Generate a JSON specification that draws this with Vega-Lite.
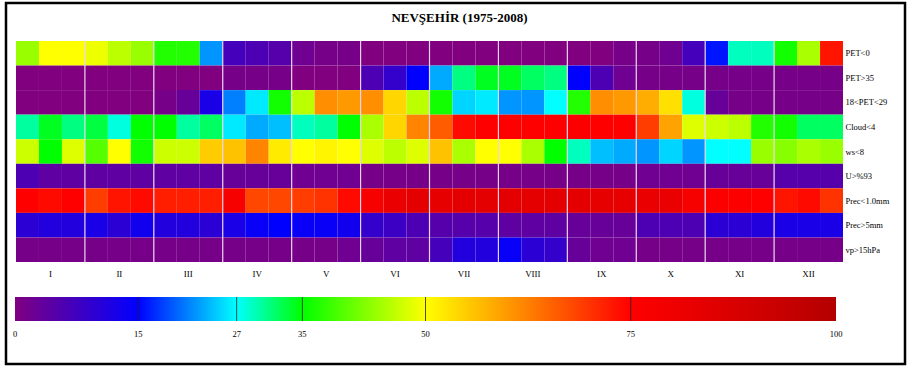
{
  "$schema": "https://vega.github.io/schema/vega-lite/v6.json",
  "width": 827,
  "height": 221,
  "autosize": "none",
  "padding": {"left": 16, "top": 41, "right": 64, "bottom": 105},
  "background": "white",
  "config": {"font": "Liberation Serif", "view": {"stroke": null}},
  "title": {"text": "NEVŞEHİR (1975-2008)", "font": "Liberation Serif", "fontSize": 13, "fontWeight": "bold", "color": "black", "anchor": "middle", "dx": 30, "offset": -23},
  "datasets": {
    "cells": [
      {"d":1,"v":"PET<0","p":44},{"d":2,"v":"PET<0","p":50},{"d":3,"v":"PET<0","p":50},{"d":4,"v":"PET<0","p":49},{"d":5,"v":"PET<0","p":46},{"d":6,"v":"PET<0","p":44},{"d":7,"v":"PET<0","p":37},{"d":8,"v":"PET<0","p":37},{"d":9,"v":"PET<0","p":22},{"d":10,"v":"PET<0","p":7},{"d":11,"v":"PET<0","p":6},{"d":12,"v":"PET<0","p":5},{"d":13,"v":"PET<0","p":2},{"d":14,"v":"PET<0","p":1},{"d":15,"v":"PET<0","p":1},{"d":16,"v":"PET<0","p":0},{"d":17,"v":"PET<0","p":0},{"d":18,"v":"PET<0","p":0},{"d":19,"v":"PET<0","p":0},{"d":20,"v":"PET<0","p":0},{"d":21,"v":"PET<0","p":0},{"d":22,"v":"PET<0","p":0},{"d":23,"v":"PET<0","p":0},{"d":24,"v":"PET<0","p":0},{"d":25,"v":"PET<0","p":0},{"d":26,"v":"PET<0","p":0},{"d":27,"v":"PET<0","p":1},{"d":28,"v":"PET<0","p":1},{"d":29,"v":"PET<0","p":2},{"d":30,"v":"PET<0","p":7},{"d":31,"v":"PET<0","p":16},{"d":32,"v":"PET<0","p":29},{"d":33,"v":"PET<0","p":29},{"d":34,"v":"PET<0","p":36},{"d":35,"v":"PET<0","p":45},{"d":36,"v":"PET<0","p":73},
      {"d":1,"v":"PET>35","p":0},{"d":2,"v":"PET>35","p":0},{"d":3,"v":"PET>35","p":0},{"d":4,"v":"PET>35","p":0},{"d":5,"v":"PET>35","p":0},{"d":6,"v":"PET>35","p":0},{"d":7,"v":"PET>35","p":0},{"d":8,"v":"PET>35","p":0},{"d":9,"v":"PET>35","p":0},{"d":10,"v":"PET>35","p":1},{"d":11,"v":"PET>35","p":1},{"d":12,"v":"PET>35","p":1},{"d":13,"v":"PET>35","p":0},{"d":14,"v":"PET>35","p":0},{"d":15,"v":"PET>35","p":0},{"d":16,"v":"PET>35","p":6},{"d":17,"v":"PET>35","p":9},{"d":18,"v":"PET>35","p":15},{"d":19,"v":"PET>35","p":23},{"d":20,"v":"PET>35","p":31},{"d":21,"v":"PET>35","p":34},{"d":22,"v":"PET>35","p":34},{"d":23,"v":"PET>35","p":32},{"d":24,"v":"PET>35","p":31},{"d":25,"v":"PET>35","p":15},{"d":26,"v":"PET>35","p":6},{"d":27,"v":"PET>35","p":2},{"d":28,"v":"PET>35","p":1},{"d":29,"v":"PET>35","p":1},{"d":30,"v":"PET>35","p":1},{"d":31,"v":"PET>35","p":1},{"d":32,"v":"PET>35","p":1},{"d":33,"v":"PET>35","p":1},{"d":34,"v":"PET>35","p":1},{"d":35,"v":"PET>35","p":1},{"d":36,"v":"PET>35","p":1},
      {"d":1,"v":"18<PET<29","p":0},{"d":2,"v":"18<PET<29","p":0},{"d":3,"v":"18<PET<29","p":0},{"d":4,"v":"18<PET<29","p":0},{"d":5,"v":"18<PET<29","p":0},{"d":6,"v":"18<PET<29","p":0},{"d":7,"v":"18<PET<29","p":1},{"d":8,"v":"18<PET<29","p":3},{"d":9,"v":"18<PET<29","p":12},{"d":10,"v":"18<PET<29","p":21},{"d":11,"v":"18<PET<29","p":26},{"d":12,"v":"18<PET<29","p":36},{"d":13,"v":"18<PET<29","p":46},{"d":14,"v":"18<PET<29","p":61},{"d":15,"v":"18<PET<29","p":60},{"d":16,"v":"18<PET<29","p":61},{"d":17,"v":"18<PET<29","p":54},{"d":18,"v":"18<PET<29","p":46},{"d":19,"v":"18<PET<29","p":36},{"d":20,"v":"18<PET<29","p":25},{"d":21,"v":"18<PET<29","p":26},{"d":22,"v":"18<PET<29","p":22},{"d":23,"v":"18<PET<29","p":22},{"d":24,"v":"18<PET<29","p":27},{"d":25,"v":"18<PET<29","p":37},{"d":26,"v":"18<PET<29","p":61},{"d":27,"v":"18<PET<29","p":60},{"d":28,"v":"18<PET<29","p":58},{"d":29,"v":"18<PET<29","p":53},{"d":30,"v":"18<PET<29","p":28},{"d":31,"v":"18<PET<29","p":3},{"d":32,"v":"18<PET<29","p":1},{"d":33,"v":"18<PET<29","p":1},{"d":34,"v":"18<PET<29","p":1},{"d":35,"v":"18<PET<29","p":1},{"d":36,"v":"18<PET<29","p":1},
      {"d":1,"v":"Cloud<4","p":30},{"d":2,"v":"Cloud<4","p":34},{"d":3,"v":"Cloud<4","p":31},{"d":4,"v":"Cloud<4","p":33},{"d":5,"v":"Cloud<4","p":28},{"d":6,"v":"Cloud<4","p":35},{"d":7,"v":"Cloud<4","p":35},{"d":8,"v":"Cloud<4","p":30},{"d":9,"v":"Cloud<4","p":32},{"d":10,"v":"Cloud<4","p":26},{"d":11,"v":"Cloud<4","p":23},{"d":12,"v":"Cloud<4","p":24},{"d":13,"v":"Cloud<4","p":29},{"d":14,"v":"Cloud<4","p":30},{"d":15,"v":"Cloud<4","p":35},{"d":16,"v":"Cloud<4","p":45},{"d":17,"v":"Cloud<4","p":54},{"d":18,"v":"Cloud<4","p":62},{"d":19,"v":"Cloud<4","p":66},{"d":20,"v":"Cloud<4","p":74},{"d":21,"v":"Cloud<4","p":75},{"d":22,"v":"Cloud<4","p":75},{"d":23,"v":"Cloud<4","p":75},{"d":24,"v":"Cloud<4","p":75},{"d":25,"v":"Cloud<4","p":76},{"d":26,"v":"Cloud<4","p":75},{"d":27,"v":"Cloud<4","p":75},{"d":28,"v":"Cloud<4","p":69},{"d":29,"v":"Cloud<4","p":59},{"d":30,"v":"Cloud<4","p":48},{"d":31,"v":"Cloud<4","p":47},{"d":32,"v":"Cloud<4","p":46},{"d":33,"v":"Cloud<4","p":37},{"d":34,"v":"Cloud<4","p":36},{"d":35,"v":"Cloud<4","p":32},{"d":36,"v":"Cloud<4","p":32},
      {"d":1,"v":"ws<8","p":47},{"d":2,"v":"ws<8","p":35},{"d":3,"v":"ws<8","p":48},{"d":4,"v":"ws<8","p":40},{"d":5,"v":"ws<8","p":50},{"d":6,"v":"ws<8","p":36},{"d":7,"v":"ws<8","p":47},{"d":8,"v":"ws<8","p":47},{"d":9,"v":"ws<8","p":55},{"d":10,"v":"ws<8","p":56},{"d":11,"v":"ws<8","p":62},{"d":12,"v":"ws<8","p":52},{"d":13,"v":"ws<8","p":50},{"d":14,"v":"ws<8","p":51},{"d":15,"v":"ws<8","p":50},{"d":16,"v":"ws<8","p":48},{"d":17,"v":"ws<8","p":46},{"d":18,"v":"ws<8","p":48},{"d":19,"v":"ws<8","p":56},{"d":20,"v":"ws<8","p":45},{"d":21,"v":"ws<8","p":50},{"d":22,"v":"ws<8","p":50},{"d":23,"v":"ws<8","p":45},{"d":24,"v":"ws<8","p":35},{"d":25,"v":"ws<8","p":29},{"d":26,"v":"ws<8","p":24},{"d":27,"v":"ws<8","p":23},{"d":28,"v":"ws<8","p":22},{"d":29,"v":"ws<8","p":25},{"d":30,"v":"ws<8","p":22},{"d":31,"v":"ws<8","p":27},{"d":32,"v":"ws<8","p":27},{"d":33,"v":"ws<8","p":44},{"d":34,"v":"ws<8","p":43},{"d":35,"v":"ws<8","p":45},{"d":36,"v":"ws<8","p":44},
      {"d":1,"v":"U>%93","p":6},{"d":2,"v":"U>%93","p":4},{"d":3,"v":"U>%93","p":4},{"d":4,"v":"U>%93","p":4},{"d":5,"v":"U>%93","p":4},{"d":6,"v":"U>%93","p":4},{"d":7,"v":"U>%93","p":4},{"d":8,"v":"U>%93","p":4},{"d":9,"v":"U>%93","p":4},{"d":10,"v":"U>%93","p":3},{"d":11,"v":"U>%93","p":3},{"d":12,"v":"U>%93","p":3},{"d":13,"v":"U>%93","p":2},{"d":14,"v":"U>%93","p":2},{"d":15,"v":"U>%93","p":2},{"d":16,"v":"U>%93","p":1},{"d":17,"v":"U>%93","p":1},{"d":18,"v":"U>%93","p":1},{"d":19,"v":"U>%93","p":1},{"d":20,"v":"U>%93","p":1},{"d":21,"v":"U>%93","p":1},{"d":22,"v":"U>%93","p":1},{"d":23,"v":"U>%93","p":1},{"d":24,"v":"U>%93","p":1},{"d":25,"v":"U>%93","p":1},{"d":26,"v":"U>%93","p":1},{"d":27,"v":"U>%93","p":1},{"d":28,"v":"U>%93","p":2},{"d":29,"v":"U>%93","p":2},{"d":30,"v":"U>%93","p":2},{"d":31,"v":"U>%93","p":3},{"d":32,"v":"U>%93","p":3},{"d":33,"v":"U>%93","p":3},{"d":34,"v":"U>%93","p":5},{"d":35,"v":"U>%93","p":5},{"d":36,"v":"U>%93","p":5},
      {"d":1,"v":"Prec<1.0mm","p":75},{"d":2,"v":"Prec<1.0mm","p":74},{"d":3,"v":"Prec<1.0mm","p":75},{"d":4,"v":"Prec<1.0mm","p":69},{"d":5,"v":"Prec<1.0mm","p":73},{"d":6,"v":"Prec<1.0mm","p":74},{"d":7,"v":"Prec<1.0mm","p":72},{"d":8,"v":"Prec<1.0mm","p":72},{"d":9,"v":"Prec<1.0mm","p":72},{"d":10,"v":"Prec<1.0mm","p":78},{"d":11,"v":"Prec<1.0mm","p":68},{"d":12,"v":"Prec<1.0mm","p":68},{"d":13,"v":"Prec<1.0mm","p":69},{"d":14,"v":"Prec<1.0mm","p":70},{"d":15,"v":"Prec<1.0mm","p":74},{"d":16,"v":"Prec<1.0mm","p":78},{"d":17,"v":"Prec<1.0mm","p":82},{"d":18,"v":"Prec<1.0mm","p":84},{"d":19,"v":"Prec<1.0mm","p":83},{"d":20,"v":"Prec<1.0mm","p":84},{"d":21,"v":"Prec<1.0mm","p":84},{"d":22,"v":"Prec<1.0mm","p":84},{"d":23,"v":"Prec<1.0mm","p":84},{"d":24,"v":"Prec<1.0mm","p":84},{"d":25,"v":"Prec<1.0mm","p":84},{"d":26,"v":"Prec<1.0mm","p":83},{"d":27,"v":"Prec<1.0mm","p":83},{"d":28,"v":"Prec<1.0mm","p":82},{"d":29,"v":"Prec<1.0mm","p":82},{"d":30,"v":"Prec<1.0mm","p":78},{"d":31,"v":"Prec<1.0mm","p":76},{"d":32,"v":"Prec<1.0mm","p":76},{"d":33,"v":"Prec<1.0mm","p":75},{"d":34,"v":"Prec<1.0mm","p":73},{"d":35,"v":"Prec<1.0mm","p":74},{"d":36,"v":"Prec<1.0mm","p":70},
      {"d":1,"v":"Prec>5mm","p":10},{"d":2,"v":"Prec>5mm","p":11},{"d":3,"v":"Prec>5mm","p":11},{"d":4,"v":"Prec>5mm","p":12},{"d":5,"v":"Prec>5mm","p":10},{"d":6,"v":"Prec>5mm","p":13},{"d":7,"v":"Prec>5mm","p":11},{"d":8,"v":"Prec>5mm","p":11},{"d":9,"v":"Prec>5mm","p":10},{"d":10,"v":"Prec>5mm","p":12},{"d":11,"v":"Prec>5mm","p":14},{"d":12,"v":"Prec>5mm","p":15},{"d":13,"v":"Prec>5mm","p":14},{"d":14,"v":"Prec>5mm","p":14},{"d":15,"v":"Prec>5mm","p":13},{"d":16,"v":"Prec>5mm","p":9},{"d":17,"v":"Prec>5mm","p":8},{"d":18,"v":"Prec>5mm","p":6},{"d":19,"v":"Prec>5mm","p":5},{"d":20,"v":"Prec>5mm","p":5},{"d":21,"v":"Prec>5mm","p":5},{"d":22,"v":"Prec>5mm","p":4},{"d":23,"v":"Prec>5mm","p":4},{"d":24,"v":"Prec>5mm","p":4},{"d":25,"v":"Prec>5mm","p":3},{"d":26,"v":"Prec>5mm","p":3},{"d":27,"v":"Prec>5mm","p":3},{"d":28,"v":"Prec>5mm","p":6},{"d":29,"v":"Prec>5mm","p":6},{"d":30,"v":"Prec>5mm","p":6},{"d":31,"v":"Prec>5mm","p":10},{"d":32,"v":"Prec>5mm","p":10},{"d":33,"v":"Prec>5mm","p":11},{"d":34,"v":"Prec>5mm","p":12},{"d":35,"v":"Prec>5mm","p":12},{"d":36,"v":"Prec>5mm","p":12},
      {"d":1,"v":"vp>15hPa","p":1},{"d":2,"v":"vp>15hPa","p":1},{"d":3,"v":"vp>15hPa","p":1},{"d":4,"v":"vp>15hPa","p":1},{"d":5,"v":"vp>15hPa","p":1},{"d":6,"v":"vp>15hPa","p":1},{"d":7,"v":"vp>15hPa","p":1},{"d":8,"v":"vp>15hPa","p":1},{"d":9,"v":"vp>15hPa","p":1},{"d":10,"v":"vp>15hPa","p":1},{"d":11,"v":"vp>15hPa","p":1},{"d":12,"v":"vp>15hPa","p":1},{"d":13,"v":"vp>15hPa","p":1},{"d":14,"v":"vp>15hPa","p":1},{"d":15,"v":"vp>15hPa","p":2},{"d":16,"v":"vp>15hPa","p":3},{"d":17,"v":"vp>15hPa","p":4},{"d":18,"v":"vp>15hPa","p":4},{"d":19,"v":"vp>15hPa","p":7},{"d":20,"v":"vp>15hPa","p":11},{"d":21,"v":"vp>15hPa","p":11},{"d":22,"v":"vp>15hPa","p":14},{"d":23,"v":"vp>15hPa","p":10},{"d":24,"v":"vp>15hPa","p":9},{"d":25,"v":"vp>15hPa","p":3},{"d":26,"v":"vp>15hPa","p":2},{"d":27,"v":"vp>15hPa","p":2},{"d":28,"v":"vp>15hPa","p":1},{"d":29,"v":"vp>15hPa","p":1},{"d":30,"v":"vp>15hPa","p":1},{"d":31,"v":"vp>15hPa","p":1},{"d":32,"v":"vp>15hPa","p":1},{"d":33,"v":"vp>15hPa","p":1},{"d":34,"v":"vp>15hPa","p":1},{"d":35,"v":"vp>15hPa","p":1},{"d":36,"v":"vp>15hPa","p":1}
    ],
    "monthStarts": [{"d":4},{"d":7},{"d":10},{"d":13},{"d":16},{"d":19},{"d":22},{"d":25},{"d":28},{"d":31},{"d":34}],
    "ticks": [{"t":0,"tick":false},{"t":15,"tick":true},{"t":27,"tick":true},{"t":35,"tick":true},{"t":50,"tick":true},{"t":75,"tick":true},{"t":100,"tick":false}]
  },
  "layer": [
    {
      "layer": [
        {
          "data": {"name": "cells"},
          "mark": {"type": "rect"},
          "encoding": {
            "x": {"field": "d", "type": "ordinal", "scale": {"paddingInner": 0, "paddingOuter": 0},
                  "axis": {"orient": "bottom", "values": [2,5,8,11,14,17,20,23,26,29,32,35], "labelExpr": "['I','II','III','IV','V','VI','VII','VIII','IX','X','XI','XII'][(datum.value-2)/3]", "ticks": false, "domain": false, "grid": false, "labelAngle": 0, "labelFont": "Liberation Serif", "labelFontSize": 9, "labelColor": "black", "labelPadding": 7, "title": null}},
            "y": {"field": "v", "type": "nominal", "sort": ["PET<0","PET>35","18<PET<29","Cloud<4","ws<8","U>%93","Prec<1.0mm","Prec>5mm","vp>15hPa"], "scale": {"paddingInner": 0, "paddingOuter": 0},
                  "axis": {"orient": "right", "ticks": false, "domain": false, "grid": false, "labelFont": "Liberation Serif", "labelFontSize": 8.5, "labelColor": "black", "labelPadding": 2, "title": null}},
            "color": {"field": "p", "type": "quantitative", "legend": null,
                      "scale": {"domain": [0,15,27,35,50,75,100], "range": ["#800080","#0000ff","#00ffff","#00ff00","#ffff00","#ff0000","#b40000"], "interpolate": "rgb"}}
          }
        },
        {
          "data": {"name": "monthStarts"},
          "mark": {"type": "rule", "color": "#ecd4f0", "strokeWidth": 1.2},
          "encoding": {
            "x": {"field": "d", "type": "ordinal", "bandPosition": 0}
          }
        }
      ]
    },
    {
      "layer": [
        {
          "data": {"values": [{"lo": 0, "hi": 100}]},
          "mark": {"type": "rect", "fill": {"x1": 0, "y1": 0, "x2": 1, "y2": 0, "gradient": "linear", "stops": [{"offset": 0, "color": "#800080"}, {"offset": 0.15, "color": "#0000ff"}, {"offset": 0.27, "color": "#00ffff"}, {"offset": 0.35, "color": "#00ff00"}, {"offset": 0.5, "color": "#ffff00"}, {"offset": 0.75, "color": "#ff0000"}, {"offset": 1, "color": "#b40000"}]}},
          "encoding": {
            "x": {"field": "lo", "type": "quantitative", "scale": {"domain": [0, 100], "range": [-1, 820]}, "axis": null},
            "x2": {"field": "hi"},
            "y": {"datum": 0, "type": "quantitative", "scale": {"domain": [0, 1], "range": [280, 256]}, "axis": null},
            "y2": {"datum": 1}
          }
        },
        {
          "data": {"name": "ticks"},
          "transform": [{"filter": "datum.tick"}],
          "mark": {"type": "rule", "color": "#222222", "strokeWidth": 0.8},
          "encoding": {
            "x": {"field": "t", "type": "quantitative"},
            "y": {"datum": 0, "type": "quantitative"},
            "y2": {"datum": 1}
          }
        },
        {
          "data": {"name": "ticks"},
          "mark": {"type": "text", "font": "Liberation Serif", "fontSize": 8.5, "color": "black", "align": "center", "baseline": "middle"},
          "encoding": {
            "x": {"field": "t", "type": "quantitative"},
            "y": {"datum": -0.55, "type": "quantitative"},
            "text": {"field": "t", "type": "quantitative"}
          }
        }
      ]
    },
    {
      "data": {"values": [{"a": 0, "b": 1}]},
      "mark": {"type": "rect", "filled": false, "stroke": "black", "strokeWidth": 2.5},
      "encoding": {
        "x": {"field": "a", "type": "quantitative", "scale": {"domain": [0, 1], "range": [-10, 889]}, "axis": null},
        "x2": {"field": "b"},
        "y": {"field": "a", "type": "quantitative", "scale": {"domain": [0, 1], "range": [-38, 323]}, "axis": null},
        "y2": {"field": "b"}
      }
    }
  ],
  "resolve": {"scale": {"x": "independent", "y": "independent"}}
}
